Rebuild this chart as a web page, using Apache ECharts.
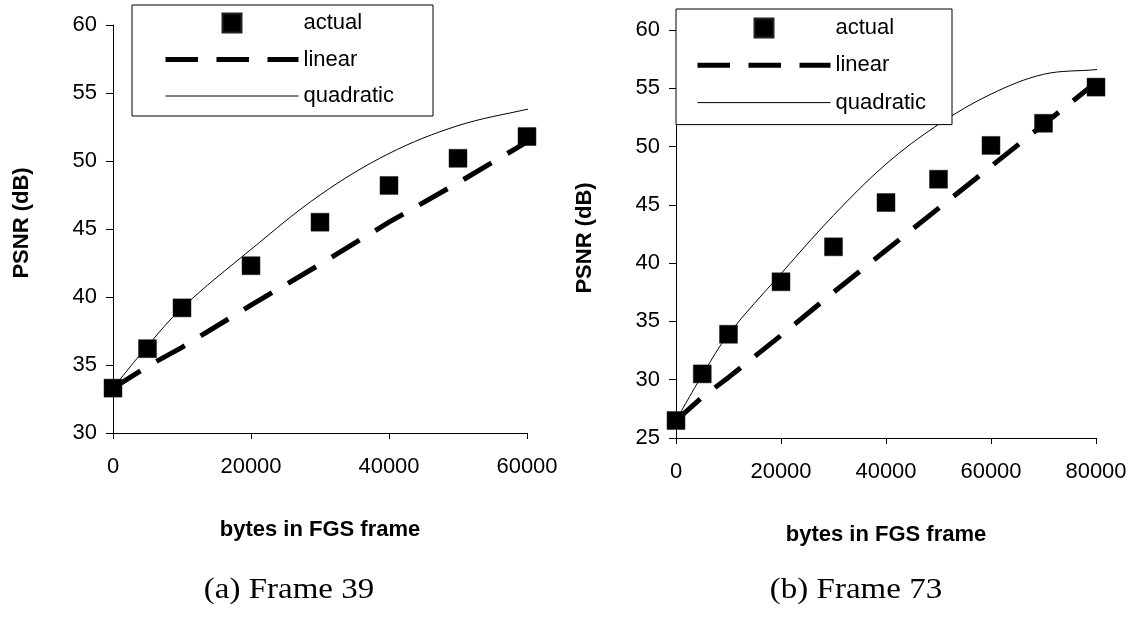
<!DOCTYPE html>
<html><head><meta charset="utf-8">
<script src="https://cdn.jsdelivr.net/npm/echarts@6/dist/echarts.min.js"></script>
<style>html,body{margin:0;padding:0;background:#fff}#c{width:1135px;height:620px}</style>
</head><body><div id="c"></div>
<script>
// ---- Frame 39 ----
const xA = [0, 5000, 10000, 20000, 30000, 40000, 50000, 60000];
const actualA = [33.3, 36.2, 39.2, 42.3, 45.5, 48.2, 50.2, 51.8];
const linearA = [33.3, 34.9, 36.3, 39.4, 42.4, 45.5, 48.4, 51.4];
const quadXA = [0, 5000, 10000, 20000, 30000, 40000, 50000, 60000, 61300];
const quadA = [33.3, 36.4, 39.2, 43.5, 47.5, 50.55, 52.6, 53.8, 53.9];
const xTicksA = [0, 20000, 40000, 60000];
const yTicksA = [30, 35, 40, 45, 50, 55, 60];

// ---- Frame 73 ----
const xB = [0, 5000, 10000, 20000, 30000, 40000, 50000, 60000, 70000, 80000];
const actualB = [26.5, 30.5, 33.9, 38.4, 41.4, 45.2, 47.2, 50.1, 52.0, 55.1];
const linXB = [0, 5000, 10000, 20000, 30000, 40000, 50000, 60000, 70000, 80000, 81700];
const linearB = [26.5, 28.5, 30.2, 33.8, 37.5, 41.1, 44.7, 48.3, 51.9, 55.5, 56.2];
const quadXB = [0, 5000, 10000, 20000, 30000, 40000, 50000, 60000, 70000, 80000, 81700];
const quadB = [26.5, 30.4, 33.9, 39.1, 44.1, 48.5, 51.9, 54.5, 56.2, 56.6, 56.7];
const xTicksB = [0, 20000, 40000, 60000, 80000];
const yTicksB = [25, 30, 35, 40, 45, 50, 55, 60];

const seriesNames = ['actual', 'linear', 'quadratic'];
const captions = ['(a) Frame 39', '(b) Frame 73'];
const xTitle = 'bytes in FGS frame';
const yTitle = 'PSNR (dB)';

const zip = (xs, ys) => xs.map((x, i) => [x, ys[i]]);
const SANS = 'Liberation Sans, Arial, sans-serif';
const DASH = [32.5, 18.5];

function xAxis(idx, ticks) {
  return {
    type: 'value', gridIndex: idx,
    min: ticks[0], max: ticks[ticks.length - 1], interval: ticks[1] - ticks[0],
    name: xTitle, nameLocation: 'middle', nameGap: 86,
    nameTextStyle: { fontFamily: SANS, fontWeight: 'bold', fontSize: 22, color: '#000' },
    axisLine: { onZero: false, lineStyle: { color: '#000', width: 1 } },
    axisTick: { show: true, inside: false, length: 6, lineStyle: { color: '#000' } },
    axisLabel: { fontFamily: SANS, fontSize: 22, color: '#000', margin: 23, showMaxLabel: true,
      formatter: v => String(v) },
    splitLine: { show: false }
  };
}
function yAxis(idx, ticks, namePad) {
  return {
    type: 'value', gridIndex: idx,
    min: ticks[0], max: ticks[ticks.length - 1], interval: ticks[1] - ticks[0],
    name: yTitle, nameLocation: 'middle', nameGap: 80,
    nameTextStyle: { fontFamily: SANS, fontWeight: 'bold', fontSize: 22, color: '#000', padding: namePad },
    axisLine: { show: true, onZero: false, lineStyle: { color: '#000', width: 1 } },
    axisTick: { show: true, inside: false, length: 7, lineStyle: { color: '#000' } },
    axisLabel: { fontFamily: SANS, fontSize: 22, color: '#000', margin: 16 },
    splitLine: { show: false }
  };
}
function seriesFor(idx, xs, act, lx, lin, qx, quad) {
  return [
    { name: seriesNames[1], type: 'line', xAxisIndex: idx, yAxisIndex: idx,
      data: zip(lx, lin), symbol: 'none', clip: false, z: 2,
      itemStyle: { color: '#000' },
      lineStyle: { color: '#000', width: 5, type: DASH, cap: 'butt' } },
    { name: seriesNames[2], type: 'line', xAxisIndex: idx, yAxisIndex: idx,
      data: zip(qx, quad), symbol: 'none', smooth: 0.35, clip: false, z: 2,
      itemStyle: { color: '#000' },
      lineStyle: { color: '#000', width: 1 } },
    { name: seriesNames[0], type: 'scatter', xAxisIndex: idx, yAxisIndex: idx,
      data: zip(xs, act), symbol: 'rect', symbolSize: 18, z: 3,
      itemStyle: { color: '#000', opacity: 1, borderColor: '#222', borderWidth: 0.5 } }
  ];
}
function legendFor(left, top, padding, gap) {
  return {
    orient: 'vertical', left: left, top: top,
    padding: padding, itemWidth: 133, itemHeight: 19, itemGap: gap,
    borderColor: '#000', borderWidth: 1, backgroundColor: '#fff',
    symbolKeepAspect: true, selectedMode: false,
    textStyle: { fontFamily: SANS, fontSize: 22, color: '#000' },
    data: [
      { name: seriesNames[0], icon: 'path://M0 0H10V10H0Z', itemStyle: { color: '#000', opacity: 1 } },
      { name: seriesNames[1], itemStyle: { opacity: 0 },
        lineStyle: { width: 5, type: DASH, color: '#000', cap: 'butt', opacity: 1 } },
      { name: seriesNames[2], itemStyle: { opacity: 0 },
        lineStyle: { width: 1, color: '#000', type: 'solid', opacity: 1 } }
    ]
  };
}

const chart = echarts.init(document.getElementById('c'), null, { renderer: 'canvas' });
chart.setOption({
  backgroundColor: '#fff',
  animation: false,
  grid: [
    { left: 113, top: 25, width: 414, height: 408 },
    { left: 676, top: 30, width: 420, height: 408 }
  ],
  xAxis: [xAxis(0, xTicksA), xAxis(1, xTicksB)],
  yAxis: [yAxis(0, yTicksA, [0, 0, 0, 12]), yAxis(1, yTicksB, [0, 8, 0, 0])],
  legend: [
    legendFor(132, 5, [7, 39, 9, 31], 14.5),
    legendFor(676, 9, [8, 26, 11, 19], 15.3)
  ],
  series: [
    ...seriesFor(0, xA, actualA, xA, linearA, quadXA, quadA),
    ...seriesFor(1, xB, actualB, linXB, linearB, quadXB, quadB)
  ],
  graphic: [
    { type: 'text', x: 289, y: 590, scaleX: 1.1, style: { text: captions[0], font: '30px "Liberation Serif", serif', fill: '#000', textAlign: 'center', textVerticalAlign: 'middle' } },
    { type: 'text', x: 856, y: 590, scaleX: 1.1, style: { text: captions[1], font: '30px "Liberation Serif", serif', fill: '#000', textAlign: 'center', textVerticalAlign: 'middle' } }
  ]
});
</script>
</body></html>
